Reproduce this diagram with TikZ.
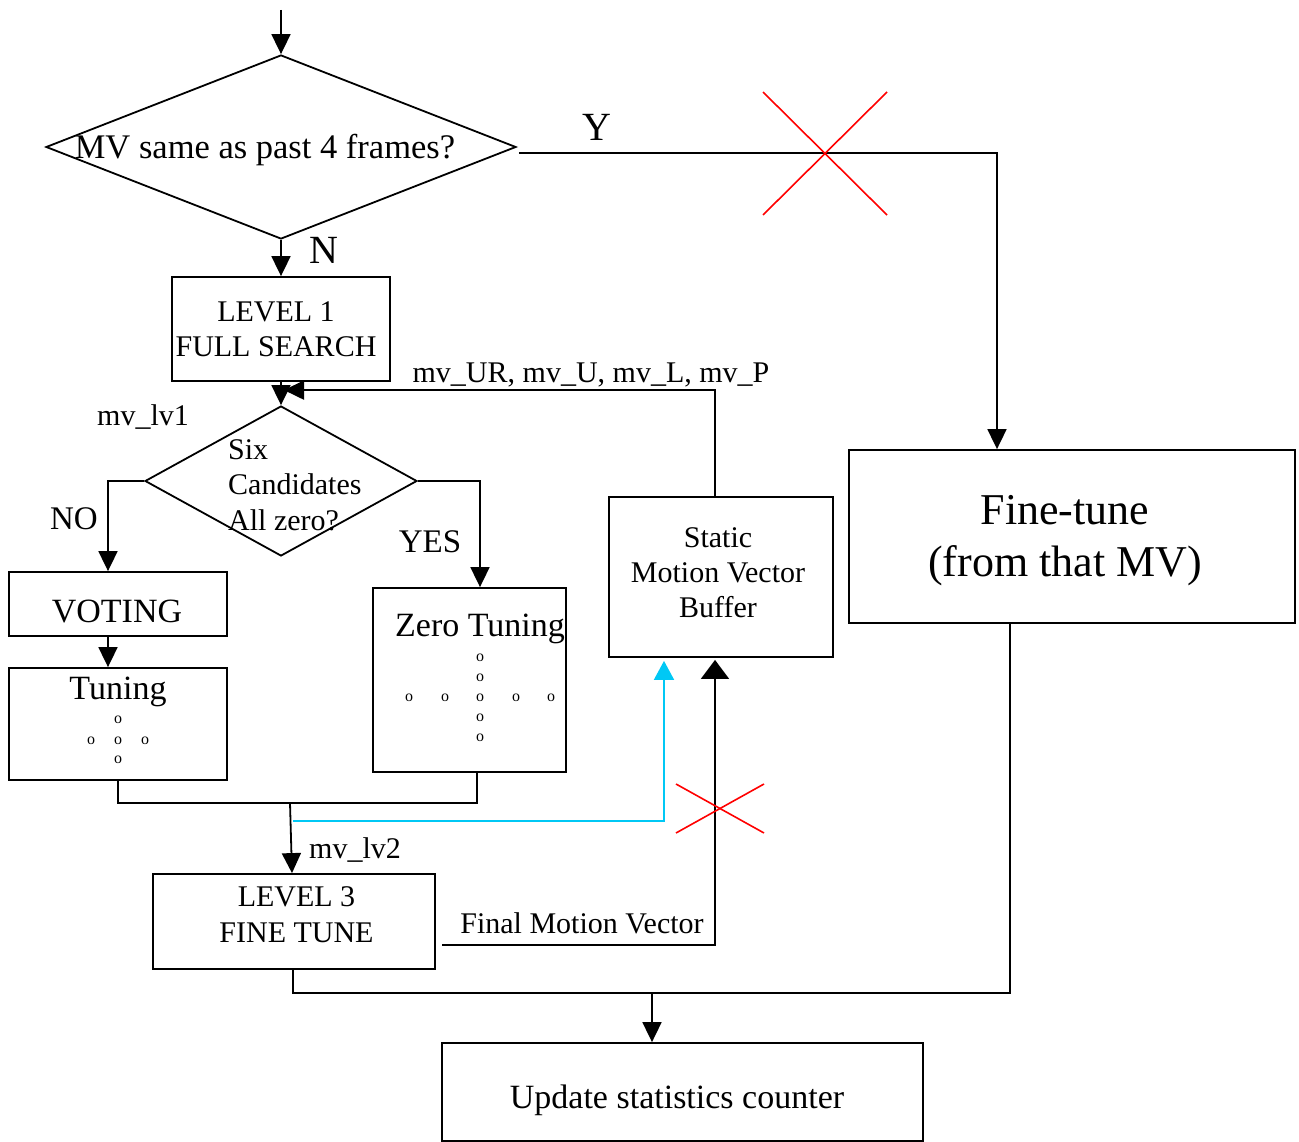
\documentclass[tikz,border=0pt]{standalone}
\usepackage{fontspec}
\setmainfont{Liberation Serif}
\usetikzlibrary{arrows.meta,shapes.geometric}
\definecolor{skyline}{RGB}{0,200,245}
\tikzset{
  box/.style={draw,line width=1.8pt,rectangle,inner sep=0pt},
  decide/.style={draw,line width=1.8pt,diamond,inner sep=0pt},
  link/.style={line width=1.8pt},
  arr/.style={link,-{Triangle[width=19pt,length=20pt]}},
  wide arr/.style={link,-{Triangle[width=28pt,length=19pt]}},
  cyan arr/.style={line width=1.8pt,draw=skyline,-{Triangle[width=20pt,length=19pt,fill=skyline]}},
  cross/.style={draw=red,line width=1.6pt},
  fs/.style={font=\fontsize{#1}{#1}\selectfont},
  lbl/.style={fs=30,inner sep=0pt},
  dot/.style={fs=16,inner sep=0pt},
}
\begin{document}
\begin{tikzpicture}[x=1pt,y=-1pt]
\useasboundingbox (0,0) rectangle (1299,1142);

% decisions
\node[decide,minimum width=470pt,minimum height=184pt] (q1) at (281,147) {};
\node[fs=34.5,inner sep=0pt] (q1t) at (265,150) {MV same as past 4 frames?};
\node[decide,minimum width=272pt,minimum height=150pt] (q2) at (281,481) {};
\node[lbl,align=left,anchor=west,font=\fontsize{30}{35.5}\selectfont] (q2t) at (228,485) {Six\\Candidates\\All zero?};

% process boxes
\node[box,minimum width=218pt,minimum height=104pt] (lvone) at (281,329) {};
\node[lbl,align=center,font=\fontsize{30}{35}\selectfont] (lvonet) at (276,329.5) {LEVEL 1\\FULL SEARCH};
\node[box,minimum width=218pt,minimum height=64pt] (voting) at (118,604) {};
\node[fs=34,inner sep=0pt] (votingt) at (117,611) {VOTING};
\node[box,minimum width=218pt,minimum height=112pt] (tuning) at (118,724) {};
\node[fs=34,inner sep=0pt] (tuningt) at (118,692) {Tuning};
\node[box,minimum width=193pt,minimum height=184pt] (zerotune) at (469.5,680) {};
\node[fs=34,inner sep=0pt] (zerotunet) at (480,629) {Zero Tuning};
\node[box,minimum width=224pt,minimum height=160pt] (buffer) at (721,577) {};
\node[lbl,align=center,font=\fontsize{30}{35}\selectfont] (buffert) at (718,573) {Static\\Motion Vector\\Buffer};
\node[box,minimum width=282pt,minimum height=95pt] (lvthree) at (294,921.5) {};
\node[lbl,align=center,font=\fontsize{30}{36}\selectfont] (lvthreet) at (296.5,915) {LEVEL 3\\FINE TUNE};
\node[box,minimum width=446pt,minimum height=173pt] (finetune) at (1072,536.5) {};
\node[align=center,font=\fontsize{44}{52}\selectfont,inner sep=0pt] (finetunet) at (1065,541) {Fine-tune\\(from that MV)};
\node[box,minimum width=481pt,minimum height=98pt] (update) at (682.5,1092) {};
\node[fs=34,inner sep=0pt] (updatet) at (677,1100) {Update statistics counter};

% search patterns
\foreach \y/\n in {720/a,741/b,760/c} \node[dot] (tp\n) at (118,\y) {o};
\node[dot] (tpl) at (91,741) {o};
\node[dot] (tpr) at (145,741) {o};
\foreach \y/\n in {658/a,678/b,698/c,718/d,738/e} \node[dot] (zv\n) at (480,\y) {o};
\foreach \x/\n in {409/a,445/b,516/c,551/d} \node[dot] (zh\n) at (\x,698) {o};

% junctions and free ends
\coordinate (entry) at (281,10);
\coordinate (mj) at (290,803);
\coordinate (cj) at (293,821);
\coordinate (fmv) at (442,945);
\coordinate (bj) at (652,993);

% connectors
\draw[arr] (entry) -- (q1.north);
\draw[arr] ([xshift=2pt,yshift=-6pt]q1.east) -| ([xshift=-75pt]finetune.north);
\draw[arr] (q1.south) -- (lvone.north);
\draw[arr] (lvone.south) -- (q2.north);
\draw[arr] ([xshift=-6pt]buffer.north) |- ([xshift=3pt,yshift=15pt]q2.north);
\draw[arr] (q2.west) -| ([xshift=-10pt]voting.north);
\draw[arr] (q2.east) -| ([xshift=10.5pt]zerotune.north);
\draw[arr] ([xshift=-10pt]voting.south) -- ([xshift=-10pt]tuning.north);
\draw[link] (tuning.south) |- (mj);
\draw[link] (mj) -| ([xshift=7.5pt]zerotune.south);
\draw[arr] (mj) -- ([xshift=-2pt]lvthree.north);
\draw[cyan arr] (cj) -| ([xshift=-57pt,yshift=-3pt]buffer.south);
\draw[wide arr] (fmv) -| ([xshift=-6pt,yshift=-2pt]buffer.south);
\draw[link] ([xshift=-1pt]lvthree.south) |- (bj);
\draw[link] ([xshift=-62pt]finetune.south) |- (bj);
\draw[arr] (bj) -- (update.north -| bj);

% rejected paths
\draw[cross] (763,92) -- (887,215);
\draw[cross] (763,215) -- (887,92);
\draw[cross] (676,784) -- (764,833);
\draw[cross] (676,833) -- (764,784);

% labels
\node[fs=40,inner sep=0pt] (ylbl) at (597,127) {Y};
\node[fs=40,inner sep=0pt] (nlbl) at (324,250) {N};
\node[fs=33,inner sep=0pt] (nolbl) at (74,519) {NO};
\node[fs=33,inner sep=0pt] (yeslbl) at (430,542) {YES};
\node[lbl] (lv1lbl) at (143,417) {mv\_lv1};
\node[lbl] (candlbl) at (591,375) {mv\_UR, mv\_U, mv\_L, mv\_P};
\node[lbl] (lv2lbl) at (355,850) {mv\_lv2};
\node[lbl] (fmvlbl) at (582,923) {Final Motion Vector};
\end{tikzpicture}
\end{document}
